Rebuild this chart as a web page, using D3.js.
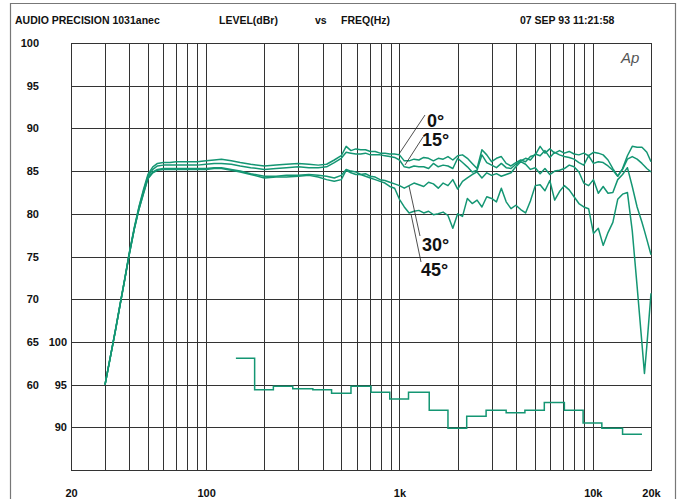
<!DOCTYPE html>
<html>
<head>
<meta charset="utf-8">
<script src="https://d3js.org/d3.v7.min.js"></script>
<style>
  body { margin: 0; background: #fff; }
  text { font-family: "Liberation Sans", Arial, sans-serif; }
</style>
</head>
<body>
<div id="chart"></div>
<script>
// sweep frequencies (Hz), shared by the four polar curves
var freqs = [30, 32, 34, 36, 38, 40, 42.5, 45, 47.5, 50, 53, 56, 60, 65, 70, 80, 90, 100, 110, 120,
  135, 150, 170, 200, 230, 260, 300, 340, 380, 420, 460,
  500, 530, 561, 595, 630, 667, 707, 749, 794, 841, 891, 944, 1000, 1059, 1122, 1189, 1260, 1335,
  1414, 1498, 1587, 1682, 1782, 1888, 2000, 2119, 2245, 2378, 2520, 2670, 2828, 2997, 3175, 3364,
  3564, 3775, 4000, 4238, 4490, 4757, 5040, 5339, 5657, 5993, 6350, 6727, 7127, 7551, 8000, 8476,
  8980, 9514, 10079, 10679, 11314, 11986, 12699, 13454, 14254, 15102, 16000, 16951, 17959, 18500,
  19027, 20000];

// level in dBr, left scale
var deg0 = [60.0, 63.3, 66.5, 69.6, 72.5, 75.4, 78.4, 80.9, 82.9, 84.6, 85.5, 85.9, 86.0, 86.0, 86.1,
  86.1, 86.1, 86.2, 86.3, 86.4, 86.2, 86.0, 85.8, 85.6, 85.7, 85.8, 85.9, 85.8, 85.7, 85.8, 86.3,
  86.8, 87.9, 87.4, 87.6, 87.5, 87.5, 87.3, 87.3, 87.1, 87.1, 87.0, 87.0, 86.9, 86.2, 86.2, 86.4,
  86.3, 86.6, 86.5, 86.2, 86.5, 86.4, 86.7, 86.3, 86.8, 86.9, 86.5, 85.9, 85.3, 87.5, 86.9, 86.1,
  86.5, 86.7, 85.9, 85.6, 86.0, 86.3, 86.1, 86.7, 86.9, 87.9, 87.1, 87.6, 87.1, 87.4, 87.1, 87.3,
  87.0, 86.9, 87.1, 86.8, 87.2, 87.1, 86.9, 86.3, 85.3, 84.4, 85.3, 86.8, 87.9, 87.8, 87.8, 87.5,
  87.2, 86.1];

var deg15 = [60.0, 63.3, 66.4, 69.5, 72.4, 75.3, 78.3, 80.8, 82.7, 84.4, 85.2, 85.6, 85.7, 85.7, 85.7,
  85.7, 85.7, 85.8, 85.9, 85.9, 85.8, 85.6, 85.4, 85.2, 85.3, 85.4, 85.5, 85.4, 85.4, 85.5, 86.0,
  86.5, 87.2, 87.1, 87.0, 87.0, 87.1, 86.9, 86.9, 86.9, 86.8, 86.7, 86.6, 86.3, 85.5, 85.4, 85.6,
  85.5, 85.5, 85.3, 85.9, 85.5, 85.7, 85.6, 85.3, 86.5, 86.0, 85.5, 84.9, 85.1, 86.9, 86.0, 85.7,
  85.4, 85.9, 85.4, 85.3, 85.8, 86.2, 86.5, 86.3, 87.0, 86.8, 87.4, 86.6, 87.2, 86.9, 86.7, 86.6,
  86.4, 86.0, 85.7, 86.8, 85.9, 86.1, 86.0, 85.6, 85.1, 84.4, 85.2, 86.4, 86.7, 86.4, 85.9, 85.6,
  85.3, 84.9];

var deg30 = [60.0, 63.3, 66.4, 69.5, 72.4, 75.2, 78.2, 80.6, 82.5, 84.2, 84.9, 85.2, 85.3, 85.3, 85.3,
  85.3, 85.3, 85.3, 85.4, 85.4, 85.2, 85.0, 84.7, 84.4, 84.4, 84.5, 84.5, 84.6, 84.5, 84.4, 84.2,
  84.5, 85.2, 85.0, 84.9, 84.6, 84.7, 84.4, 84.3, 84.0, 83.9, 83.7, 83.5, 83.3, 83.0, 83.3, 83.6,
  83.4, 83.2, 83.7, 83.5, 83.0, 83.6, 83.3, 84.0, 82.9, 83.8, 84.2, 84.6, 84.9, 84.2, 84.8, 84.5,
  84.7, 84.4, 84.6, 84.8, 85.5, 86.1, 85.8, 85.2, 85.4, 84.7, 85.3, 84.6, 85.0, 85.1, 85.3, 85.7,
  85.5, 84.9, 83.6, 83.3, 84.0, 82.4, 83.2, 82.4, 82.5, 84.0, 84.6, 85.4, 83.2, 80.8, 79.0, 78.0,
  77.0, 75.2];

var deg45 = [60.0, 63.3, 66.4, 69.5, 72.4, 75.2, 78.2, 80.6, 82.4, 84.1, 84.8, 85.1, 85.2, 85.2, 85.2,
  85.2, 85.2, 85.2, 85.3, 85.3, 85.1, 84.9, 84.6, 84.2, 84.3, 84.3, 84.4, 84.5, 84.3, 84.0, 83.8,
  84.0, 85.1, 84.8, 84.6, 84.6, 84.4, 84.2, 84.0, 83.8, 83.6, 83.2, 83.0, 81.7, 80.8, 80.1, 80.3,
  80.4, 80.1, 80.3, 79.9, 80.0, 80.2, 79.8, 78.3, 80.0, 79.7, 81.8, 81.2, 81.6, 80.8, 82.0, 81.8,
  81.4, 83.0, 81.4, 80.6, 81.0, 80.5, 80.1, 81.5, 83.3, 83.4, 82.7, 83.9, 81.6, 82.6, 83.3, 82.8,
  82.0, 81.2, 80.8, 80.6, 77.7, 78.3, 76.3, 77.8, 79.0, 81.7, 82.3, 82.5, 78.0, 71.5, 64.8, 61.3,
  64.5, 70.7];

// third-octave band levels, right (inner) scale
var bandCenters = [160, 200, 250, 315, 400, 500, 630, 800, 1000, 1250, 1600, 2000, 2500, 3150,
  4000, 5000, 6300, 8000, 10000, 12500, 16000];
var bandLevels = [98.1, 94.4, 94.8, 94.5, 94.4, 94.0, 94.8, 94.1, 93.3, 94.1, 92.0, 89.9, 91.3,
  92.0, 91.7, 92.0, 92.9, 92.0, 90.5, 89.9, 89.2];

var curveNames = ["0°", "15°", "30°", "45°"];
var leftTicks = [100, 95, 90, 85, 80, 75, 70, 65, 60];
var rightTicks = [100, 95, 90];
var xTicks = [20, 100, 1000, 10000, 20000];
var xTickLabels = ["20", "100", "1k", "10k", "20k"];

var svg = d3.select("#chart").append("svg")
  .attr("width", 682)
  .attr("height", 499);

var x = d3.scaleLog().domain([20, 20000]).range([71, 651]);
var y = d3.scaleLinear().domain([50, 100]).range([470, 43]);
var y2 = d3.scaleLinear().domain([85, 135]).range([470, 43]);

var green = "#149673";

// outer frame
svg.append("path")
  .attr("d", "M10.5,499V3.5H675.5V499")
  .attr("fill", "none")
  .attr("stroke", "#777")
  .attr("stroke-width", 1.2);

// header
var header = svg.append("g")
  .attr("font-size", 10.5)
  .attr("font-weight", "bold")
  .attr("fill", "#111");
header.append("text").attr("x", 15).attr("y", 24).text("AUDIO PRECISION 1031anec");
header.append("text").attr("x", 219).attr("y", 24).text("LEVEL(dBr)");
header.append("text").attr("x", 315).attr("y", 24).text("vs");
header.append("text").attr("x", 341).attr("y", 24).text("FREQ(Hz)");
header.append("text").attr("x", 520).attr("y", 24).text("07 SEP 93 11:21:58");

// grid
svg.append("g").selectAll("line")
  .data(x.ticks())
  .join("line")
  .attr("x1", function(d) { return Math.round(x(d)) + 0.5; })
  .attr("x2", function(d) { return Math.round(x(d)) + 0.5; })
  .attr("y1", 43)
  .attr("y2", 470)
  .attr("stroke", "#333")
  .attr("stroke-width", 1);

svg.append("g").selectAll("line")
  .data(y.ticks(10))
  .join("line")
  .attr("x1", 71)
  .attr("x2", 651)
  .attr("y1", function(d) { return Math.round(y(d)) + 0.5; })
  .attr("y2", function(d) { return Math.round(y(d)) + 0.5; })
  .attr("stroke", "#333")
  .attr("stroke-width", 1);

svg.append("rect")
  .attr("x", 71.5).attr("y", 43.5)
  .attr("width", 580).attr("height", 427)
  .attr("fill", "none")
  .attr("stroke", "#333");

// axes labels
function styleAxis(g) {
  g.select(".domain").remove();
  g.selectAll("text")
    .attr("font-size", 11)
    .attr("font-weight", "bold")
    .attr("fill", "#111")
    .attr("font-family", "'Liberation Sans', Arial, sans-serif");
}

svg.append("g")
  .attr("transform", "translate(39,0)")
  .call(d3.axisLeft(y).tickValues(leftTicks).tickSize(0).tickPadding(0))
  .call(styleAxis);

svg.append("g")
  .attr("transform", "translate(67,0)")
  .call(d3.axisLeft(y2).tickValues(rightTicks).tickSize(0).tickPadding(0))
  .call(styleAxis);

svg.append("g")
  .attr("transform", "translate(0,487)")
  .call(d3.axisBottom(x).tickValues(xTicks)
    .tickFormat(function(d, i) { return xTickLabels[i]; })
    .tickSize(0).tickPadding(2))
  .call(styleAxis);

// curves
var line = d3.line()
  .x(function(d) { return x(d[0]); })
  .y(function(d) { return y(d[1]); });

[deg45, deg30, deg15, deg0].forEach(function(vals) {
  svg.append("path")
    .datum(freqs.map(function(f, i) { return [f, vals[i]]; }))
    .attr("d", line)
    .attr("fill", "none")
    .attr("stroke", green)
    .attr("stroke-width", 1.5)
    .attr("stroke-linejoin", "round");
});

// step curve of band levels
var sixth = Math.pow(2, 1 / 6);
var stepPts = bandCenters.map(function(c, i) { return [c / sixth, bandLevels[i]]; });
stepPts.push([bandCenters[bandCenters.length - 1] * sixth, bandLevels[bandLevels.length - 1]]);

svg.append("path")
  .datum(stepPts)
  .attr("d", d3.line()
    .x(function(d) { return x(d[0]); })
    .y(function(d) { return y2(d[1]); })
    .curve(d3.curveStepAfter))
  .attr("fill", "none")
  .attr("stroke", green)
  .attr("stroke-width", 1.5);

// annotations
var notes = svg.append("g")
  .attr("font-size", 18)
  .attr("font-weight", "bold")
  .attr("fill", "#111");
var noteLines = [
  [425, 115, 399, 154, 427, 127],
  [423, 137, 405, 165, 422, 146],
  [420, 236, 409, 186, 422, 251],
  [421, 262, 411, 214, 421, 276]
];
noteLines.forEach(function(n, i) {
  svg.append("line")
    .attr("x1", n[0]).attr("y1", n[1])
    .attr("x2", n[2]).attr("y2", n[3])
    .attr("stroke", "#222")
    .attr("stroke-width", 0.8);
  notes.append("text").attr("x", n[4]).attr("y", n[5]).text(curveNames[i]);
});

// Ap logo
svg.append("text")
  .attr("x", 621).attr("y", 63)
  .attr("font-size", 15)
  .attr("font-style", "italic")
  .attr("font-family", "'DejaVu Sans', sans-serif")
  .attr("font-weight", 200)
  .attr("fill", "#555")
  .text("Ap");
</script>
</body>
</html>
